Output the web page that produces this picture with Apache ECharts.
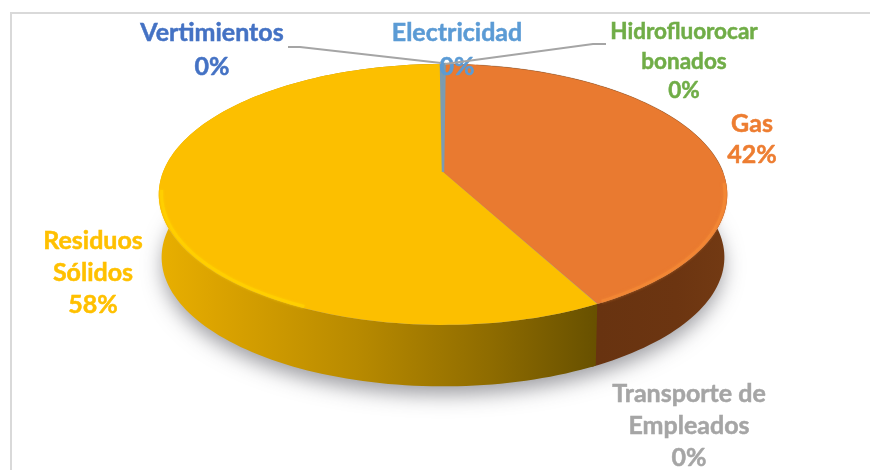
<!DOCTYPE html>
<html><head><meta charset="utf-8">
<style>html,body{margin:0;padding:0;background:#fff}#c{width:870px;height:470px}</style>
<script src="https://cdn.jsdelivr.net/npm/echarts@6/dist/echarts.min.js"></script>
</head><body><div id="c"></div>
<script>
// Data
const categories = ['Vertimientos','Gas','Transporte de\nEmpleados','Residuos\nSólidos','Electricidad','Hidrofluorocar\nbonados'];
const values = [0.02, 42.1, 0.02, 57.6, 0.24, 0.02];
const colors = ['#4472C4','#ED7D31','#A5A5A5','#FFC000','#5B9BD5','#70AD47'];
const sliceTop = ['#4472C4','#E97A30','#A5A5A5','#FCBF00','#7C9CB0','#70AD47'];
// Label layout (centre x, first-line centre y, line height, font size)
const labelPos = [[212,33,34,25],[752,124,31,25],[689,394,32,25],[93,241,32,25],[457,33,34,25],[684,32,29.5,22.5]];
const P = {cx:443, y0:172, a:280, b:126.6, k:0.172, depth:63, startDeg:0.45};

const total = values.reduce((s,v)=>s+v,0);
function proj(deg, scale, dy){
  const t = deg*Math.PI/180, X = Math.sin(t), Y = -Math.cos(t), w = 1-P.k*Y;
  return [P.cx + P.a*scale*X/w, P.y0 + dy + P.b*scale*Y/w];
}
function arc(d0,d1,scale,dy){
  const n = Math.max(2,Math.ceil(Math.abs(d1-d0)/1.5)), pts=[];
  for(let i=0;i<=n;i++) pts.push(proj(d0+(d1-d0)*i/n,scale,dy));
  return pts;
}
const wallFill = {
  3:[[0,'#E8AF00'],[0.12,'#DCA400'],[0.45,'#B88A00'],[0.75,'#8F6C00'],[1,'#675000']],
  1:[[0,'#683310'],[0.6,'#6C3511'],[1,'#733A13']]
};
const wallRange = {3:[160,598],1:[598,728]};

function renderItem(params, api){
  const i = params.dataIndex;
  let before = 0;
  for(let j=0;j<i;j++) before += values[j];
  const d0 = P.startDeg + before/total*360;
  const d1 = d0 + api.value(0)/total*360;
  const children = [];
  const range = wallRange[i];
  // soft shadow under the whole pie
  if(i===3){
    children.push({type:'polygon',z2:1,shape:{points:arc(0,360,0.985,P.depth)},style:{
      fill:'#999',shadowBlur:20,shadowColor:'rgba(60,60,70,0.5)',shadowOffsetY:9}});
  }
  // side wall
  if(range){
    const end = i===1 ? d1+1 : d1;
    const pts = arc(d0,end,1,0).concat(arc(end,d0,0.99,P.depth));
    children.push({type:'polygon',z2:i===1?2:3,shape:{points:pts},style:{
      fill:{type:'linear',global:true,x:range[0],y:0,x2:range[1],y2:0,colorStops:wallFill[i].map(s=>({offset:s[0],color:s[1]}))}}});
  }
  // top face
  const faceStyle = {fill:sliceTop[i]};
  if(i===4){ faceStyle.stroke = sliceTop[i]; faceStyle.lineWidth = 2.5; }
  children.push({type:'polygon',z2:i===4?5:4,shape:{points:[[P.cx,P.y0]].concat(arc(d0,d1,1,0))},style:faceStyle});
  // bevel
  if(i===3){
    children.push({type:'polyline',z2:4,shape:{points:arc(205,262,0.99,0)},
      style:{fill:null,stroke:'#FFD000',lineWidth:3,opacity:0.85,shadowBlur:3,shadowColor:'#FFD000'}});
  }
  if(i===1){
    children.push({type:'polyline',z2:4,shape:{points:arc(95,151,0.992,0)},
      style:{fill:null,stroke:'#F58A35',lineWidth:3,opacity:0.6,shadowBlur:3,shadowColor:'#F58A35'}});
    children.push({type:'polyline',z2:4,shape:{points:arc(8,90,1,0)},
      style:{fill:null,stroke:'#8A5A30',lineWidth:1,opacity:0.35}});
  }
  // label
  const lp = labelPos[i];
  const pct = Math.round(api.value(0)/total*100)+'%';
  const lines = categories[i].split('\n').concat([pct]);
  lines.forEach((ln,k)=>children.push({type:'text',z2:7,silent:true,
    style:{text:ln,x:lp[0],y:lp[1]+k*lp[2],align:'center',verticalAlign:'middle',
      fill:colors[i],stroke:colors[i],lineWidth:0.5,font:'bold '+lp[3]+'px Lato'}}));
  return {type:'group',children};
}

const chart = echarts.init(document.getElementById('c'),null,{renderer:'canvas'});
chart.setOption({
  animation:false,
  backgroundColor:'#fff',
  tooltip:{show:false},
  graphic:[
    {type:'polyline',z:0,shape:{points:[[11,470],[11,13],[870,13]]},style:{fill:null,stroke:'#D9D9D9',lineWidth:2}},
    {type:'polyline',z:10,shape:{points:[[288,47],[300,47],[441,63]]},style:{fill:null,stroke:'#A5A5A5',lineWidth:2}},
    {type:'polyline',z:10,shape:{points:[[606,44],[593,44],[445,64]]},style:{fill:null,stroke:'#A5A5A5',lineWidth:2}}
  ],
  series:[{type:'custom',coordinateSystem:'none',renderItem,data:values.map(v=>[v]),encode:{value:0},silent:true,clip:false}]
});
</script></body></html>
